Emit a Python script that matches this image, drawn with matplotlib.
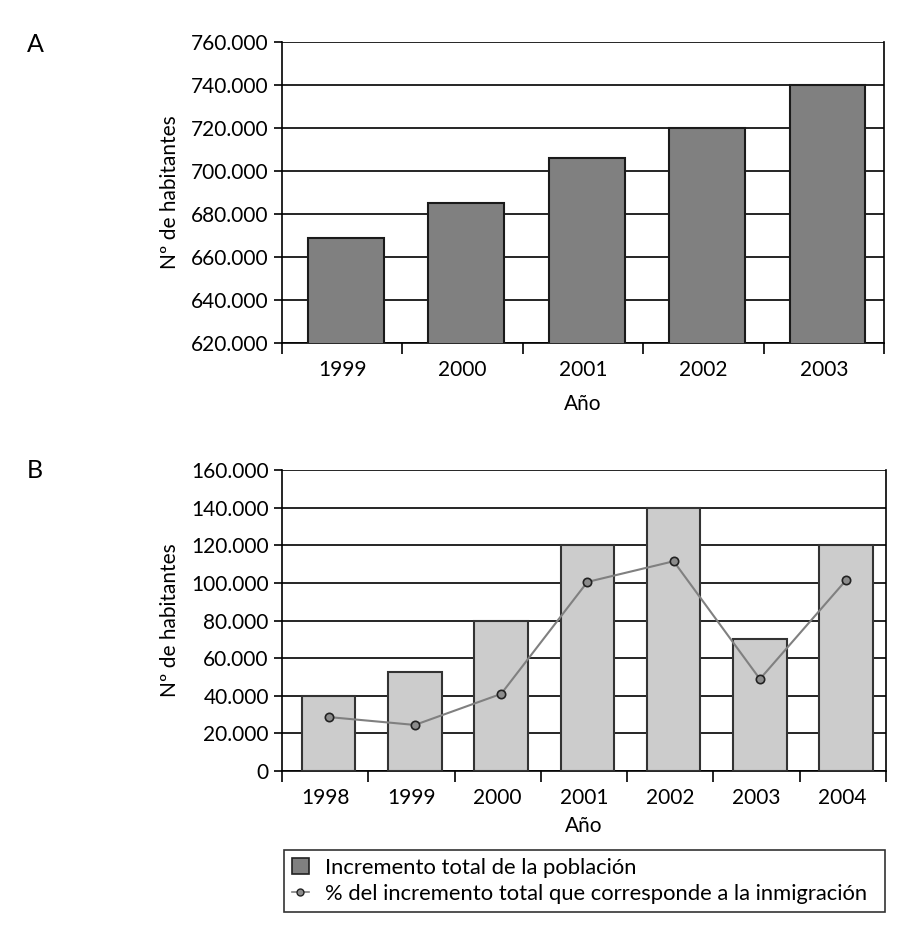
import numpy as np
import matplotlib.pyplot as plt
from matplotlib.ticker import FuncFormatter, FixedLocator
from matplotlib.lines import Line2D
from matplotlib.patches import Patch

plt.rcParams['font.family'] = ['Lato', 'DejaVu Sans']

# panel A: total population
years_a = ["1999", "2000", "2001", "2002", "2003"]
poblacion = [669000, 685000, 706000, 720000, 740000]

# panel B: yearly increase and share due to immigration
years_b = ["1998", "1999", "2000", "2001", "2002", "2003", "2004"]
incremento = [40000, 52700, 80000, 120000, 140000, 70000, 120000]
pct_inmigracion = [28700, 24500, 41000, 100500, 111500, 48900, 101500]


def miles(v, pos):
    if v == 0:
        return "0"
    return f"{int(v):,}".replace(",", ".")


def style_axes(ax, n, xpad):
    ax.set_xlim(-0.5, n - 0.5)
    ax.set_xticks(np.arange(n))
    ax.tick_params(axis="x", which="major", length=0, labelsize=15, pad=12)
    ax.xaxis.set_minor_locator(FixedLocator(np.arange(n + 1) - 0.5))
    ax.tick_params(axis="x", which="minor", length=8, width=1.2, direction="out")
    ax.tick_params(axis="y", length=6, width=1.2, direction="out", labelsize=15)
    ax.yaxis.set_major_formatter(FuncFormatter(miles))
    ax.grid(axis="y", color="black", linewidth=1.2)
    ax.set_axisbelow(True)
    for s in ax.spines.values():
        s.set_linewidth(1.2)
    ax.spines["top"].set_visible(False)
    ax.set_xlabel("Año", fontsize=15, labelpad=xpad)
    ax.set_ylabel("Nº de habitantes", fontsize=15, labelpad=8)


fig = plt.figure(figsize=(9.08, 9.32), dpi=100)

axA = fig.add_axes([0.3106, 0.632, 0.663, 0.323])
xa = np.arange(len(years_a))
axA.bar(xa + 0.03, poblacion, width=0.63, color="#808080", edgecolor="#1a1a1a", linewidth=1.5, zorder=3)
axA.set_ylim(620000, 760000)
axA.set_yticks(np.arange(620000, 760001, 20000))
axA.set_xticklabels(years_a)
style_axes(axA, len(years_a), 10)
fig.text(35 / 908, 1 - 45 / 932, "A", fontsize=18, va="center", ha="center")

axB = fig.add_axes([0.3106, 0.1727, 0.665, 0.323])
xb = np.arange(len(years_b))
axB.bar(xb + 0.04, incremento, width=0.62, color="#cccccc", edgecolor="#333333", linewidth=1.5, zorder=3)
axB.plot(xb + 0.04, pct_inmigracion, color="#808080", linewidth=1.5, marker="o", markersize=6,
         markerfacecolor="#8c8c8c", markeredgecolor="#222222", markeredgewidth=1.2, zorder=4)
axB.set_ylim(0, 160000)
axB.set_yticks(np.arange(0, 160001, 20000))
axB.set_xticklabels(years_b)
style_axes(axB, len(years_b), 6)
fig.text(35 / 908, 1 - 470 / 932, "B", fontsize=18, va="center", ha="center")

handles = [
    Patch(facecolor="#808080", edgecolor="#222222", linewidth=1.2),
    Line2D([0], [0], color="#808080", linewidth=1.2, marker="o", markersize=5,
           markerfacecolor="#8c8c8c", markeredgecolor="#222222"),
]
labels = ["Incremento total de la población",
          "% del incremento total que corresponde a la inmigración"]
leg = fig.legend(handles, labels, loc="upper left",
                 bbox_to_anchor=(284 / 908, 1 - 850 / 932, 601 / 908, 0.0),
                 mode="expand", fontsize=15.8, frameon=True, fancybox=False,
                 handlelength=0.8, handletextpad=0.7, borderpad=0.35,
                 labelspacing=0.28, borderaxespad=0)
leg.get_frame().set_edgecolor("black")
leg.get_frame().set_linewidth(1.2)

fig.savefig("out.png", dpi=100)
